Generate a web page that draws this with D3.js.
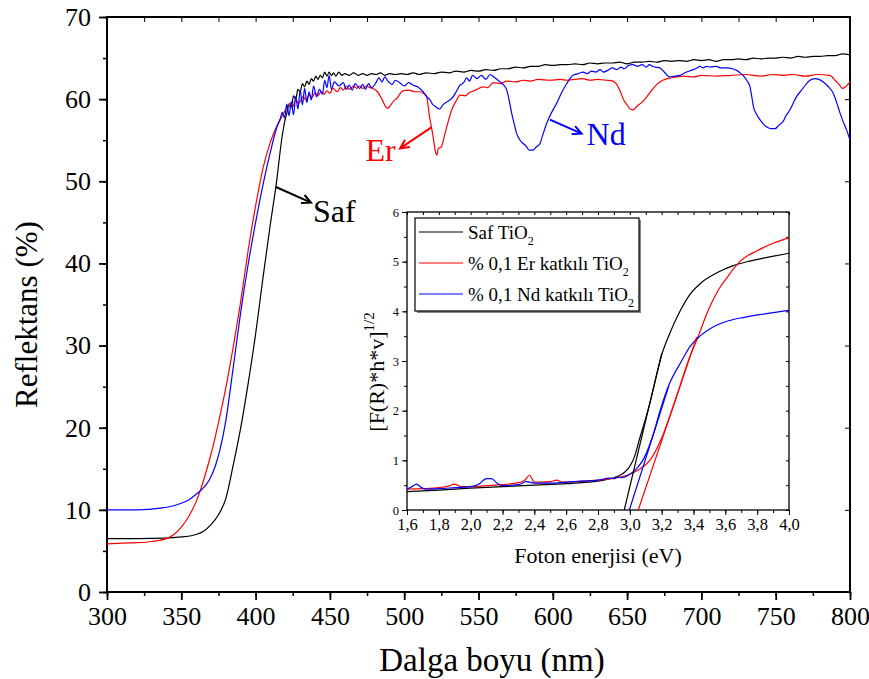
<!DOCTYPE html>
<html>
<head>
<meta charset="utf-8">
<script src="https://cdn.jsdelivr.net/npm/d3@7"></script>
<style>
    body { margin: 0; background: #fff; }
</style>
</head>
<body>
<svg id="chart" width="869" height="679"></svg>
<script>
// ---- main spectra: [wavelength nm, reflectance %] ----
const safData = [[300,6.5],[320,6.5],[340,6.55],[350,6.7],[360,7.0],[365,7.4],[370,8.2],[375,9.4],[380,11.4],[385,15.5],[390,20.0],[395,25.4],[400,31.4],[405,38.3],[409.7,44.5],[414,49.8],[417.5,55.0],[419.5,57.2],[421,58.3],[422.5,59.3],[424,59.0],[425.5,60.4],[427,60.0],[428.5,61.2],[430,60.9],[431.5,61.9],[433,61.5],[434.5,62.2],[436,61.8],[437.5,62.5],[439,62.2],[440.5,62.8],[442,62.4],[443.5,62.9],[445,62.6],[446.5,63.3],[448,62.8],[449.5,63.3],[451,62.9],[452.5,63.2],[454,62.8],[456,63.3],[458,62.9],[460,63.1],[463,62.9],[466,63.2],[469,62.9],[472,63.1],[475,62.9],[478,63.1],[481,63.0],[484,63.2],[487,62.9],[490,63.1],[494,63.0],[498,63.1],[502,63.0],[506,63.2],[510,63.0],[515,63.2],[520,63.1],[525,63.3],[530,63.2],[535,63.4],[540,63.3],[545,63.5],[550,63.4],[555,63.6],[560,63.5],[565,63.7],[570,63.7],[575,63.9],[580,63.8],[585,64.0],[590,64.0],[595,64.2],[600,64.1],[605,64.2],[610,64.2],[615,64.3],[620,64.2],[625,64.4],[630,64.3],[635,64.4],[640,64.4],[645,64.5],[650,64.3],[655,64.5],[660,64.5],[665,64.6],[670,64.5],[675,64.7],[680,64.6],[685,64.7],[690,64.6],[695,64.8],[700,64.7],[705,64.8],[710,64.6],[715,64.8],[720,64.8],[725,64.9],[730,64.8],[735,65.0],[740,64.9],[745,65.0],[750,65.0],[755,65.1],[760,65.0],[765,65.2],[770,65.1],[775,65.2],[780,65.2],[785,65.3],[790,65.3],[795,65.5],[800,65.4]];

const erData = [[300,5.85],[310,5.95],[320,6.0],[330,6.15],[340,6.5],[345,7.0],[350,7.9],[355,9.2],[360,11.0],[365,13.6],[370,16.8],[375,20.6],[380,24.9],[385,29.9],[390,35.4],[395,41.6],[400,47.0],[405,51.6],[410,54.8],[415,57.0],[418.6,58.2],[421,59.0],[423,59.5],[425,59.1],[427,59.9],[429,59.5],[432,60.3],[434,59.9],[436,60.5],[438,60.2],[440,60.8],[442,60.4],[444,60.9],[446,60.6],[448,61.0],[450,60.7],[452,61.3],[455,60.9],[457,61.4],[459,61.1],[461,61.6],[463,61.2],[466,61.6],[468,61.3],[470,61.6],[472,61.3],[475,61.6],[477,61.4],[480,61.2],[482,60.9],[485,60.0],[487.5,59.1],[489,58.9],[491,59.3],[493,59.8],[495,60.1],[497,60.6],[499,61.0],[503,61.1],[507,60.9],[510.6,60.9],[513,60.7],[515,60.4],[517,57.9],[519.5,55.4],[521,53.6],[522,53.2],[523,54.0],[525,54.2],[527,55.5],[528.6,56.6],[532,58.7],[535,59.8],[537.5,60.5],[541,60.4],[544,60.8],[548,61.1],[553,61.5],[556,61.4],[560,62.0],[565,61.9],[569,62.2],[575,62.1],[580,62.3],[585,62.2],[590,62.4],[598,62.3],[605,62.4],[610,62.3],[620,62.5],[625,62.3],[630,62.4],[636,62.3],[640.5,62.2],[643,61.8],[645,61.1],[648,59.8],[650,59.3],[652,58.8],[654,58.7],[657,59.2],[660,59.6],[665,60.7],[670,61.8],[674,62.3],[680,62.6],[688,62.8],[695,62.7],[700,62.9],[710,62.8],[720,62.9],[730,63.0],[740,62.8],[748,63.0],[755,62.9],[762,63.0],[770,62.8],[778,63.0],[786.5,62.9],[789,62.5],[791,62.1],[793,61.7],[795,61.3],[797,61.5],[800,62.1]];

const ndData = [[300,10.0],[320,10.0],[336,10.2],[345,10.5],[350,10.8],[355,11.2],[360,11.9],[365,12.7],[369,13.7],[373,15.4],[376,17.3],[380,20.9],[385,27.4],[390,34.1],[395,39.9],[400,45.0],[405,49.6],[410,53.6],[414,56.4],[416.4,57.5],[418,58.4],[419.5,57.7],[421,59.4],[422.5,58.0],[424,59.7],[425.5,58.1],[427,60.3],[428.5,58.8],[430,61.1],[431.5,59.3],[433,61.3],[434.5,59.6],[436,60.9],[437.5,59.9],[439,61.6],[441,60.3],[443,61.2],[445,60.6],[446.5,62.3],[448,61.4],[449.5,62.9],[451,61.2],[453,62.1],[456,61.6],[459,62.0],[461,61.2],[463,61.7],[465,61.1],[467,61.9],[470,61.3],[472,61.8],[474,61.2],[476,61.9],[478,61.4],[481,62.0],[483,62.6],[485,62.1],[487,62.7],[489,62.2],[492,61.8],[494,62.3],[497,62.0],[500,61.6],[503,62.0],[506,61.7],[509,61.5],[512.7,60.9],[515,60.3],[517.4,59.9],[519,59.4],[521,59.1],[524,58.8],[526,59.3],[529,59.7],[533,60.3],[535,60.9],[537.5,61.7],[540,62.0],[542,62.6],[544,62.2],[546,62.9],[549,62.5],[552,62.9],[555,62.4],[557.7,63.0],[561,62.6],[564.5,62.1],[567,61.7],[569,61.1],[570.5,60.0],[572.3,58.3],[574,57.0],[575.7,55.8],[578,55.0],[580,54.6],[582.4,54.2],[584,53.8],[586.7,53.8],[589,54.2],[591.4,54.6],[593,55.5],[596,57.1],[599,58.3],[602.6,59.5],[606,60.8],[609.4,61.9],[613.6,62.9],[617,63.1],[620.5,63.3],[623,63.1],[626,63.4],[629,63.3],[631.8,63.6],[634,63.3],[637,63.5],[640,63.8],[643,63.6],[646,63.9],[648,63.7],[651,64.1],[654,64.2],[657,64.0],[660,64.2],[663,63.9],[665,64.2],[667,64.0],[669,63.9],[672,63.8],[675,63.3],[678.7,62.7],[682,62.8],[685.5,62.9],[690,63.3],[694.5,63.6],[697,63.8],[699,64.0],[701,63.8],[703.5,64.0],[706,63.9],[710,64.0],[713,63.8],[717,63.8],[721,63.7],[723.7,63.5],[726,63.2],[728,62.9],[730.5,62.3],[732.7,61.5],[734,60.2],[735,59.1],[737,58.2],[739.4,57.5],[742,56.9],[744,56.6],[747,56.4],[749.5,56.4],[752,56.8],[755,57.3],[757,58.0],[759.6,58.7],[762,59.6],[764,60.3],[767,61.0],[770.8,61.9],[773,62.3],[776.4,62.5],[779,62.4],[782,62.1],[785,61.6],[788.8,60.7],[791,59.6],[793.3,58.3],[795.5,57.2],[797.8,56.2],[800,55.0]];

// ---- inset (Tauc): [photon energy eV, (F(R)*h*v)^1/2] ----
const safInset = [[1.6,0.37],[1.8,0.40],[2.0,0.44],[2.2,0.47],[2.4,0.50],[2.6,0.53],[2.77,0.57],[2.85,0.61],[2.9,0.65],[2.95,0.72],[2.98,0.8],[3.0,0.88],[3.03,1.08],[3.06,1.42],[3.1,1.85],[3.126,2.15],[3.163,2.65],[3.2,3.12],[3.25,3.55],[3.315,4.0],[3.38,4.35],[3.45,4.58],[3.55,4.78],[3.65,4.92],[3.75,5.01],[3.87,5.09],[4.0,5.17]];
const erInset = [[1.6,0.42],[1.7,0.43],[1.8,0.45],[1.86,0.48],[1.9,0.52],[1.94,0.47],[2.0,0.47],[2.1,0.49],[2.2,0.51],[2.3,0.55],[2.34,0.6],[2.37,0.70],[2.4,0.56],[2.45,0.56],[2.5,0.57],[2.54,0.6],[2.58,0.56],[2.7,0.58],[2.8,0.6],[2.9,0.64],[3.0,0.72],[3.05,0.8],[3.126,1.0],[3.2,1.45],[3.263,2.0],[3.315,2.5],[3.367,3.0],[3.43,3.5],[3.49,4.0],[3.56,4.45],[3.62,4.72],[3.69,5.0],[3.8,5.22],[3.9,5.37],[4.0,5.48]];
const ndInset = [[1.6,0.42],[1.63,0.47],[1.66,0.52],[1.69,0.45],[1.72,0.42],[1.8,0.43],[1.9,0.45],[2.0,0.47],[2.05,0.52],[2.1,0.63],[2.13,0.63],[2.17,0.53],[2.2,0.49],[2.3,0.51],[2.35,0.57],[2.4,0.54],[2.5,0.54],[2.6,0.56],[2.7,0.58],[2.8,0.6],[2.87,0.64],[2.9,0.63],[2.92,0.66],[2.95,0.65],[3.0,0.72],[3.05,0.86],[3.09,1.05],[3.15,1.55],[3.19,2.0],[3.25,2.55],[3.325,3.0],[3.38,3.3],[3.44,3.5],[3.52,3.68],[3.61,3.8],[3.72,3.88],[3.85,3.95],[4.0,4.02]];
// band-gap tangent lines (start at y = 0)
const safFit = [[2.965,0],[3.2,3.15]];
const erFit = [[3.053,0],[3.42,3.48]];
const ndFit = [[2.997,0],[3.245,2.5]];

const xTicks = [300,350,400,450,500,550,600,650,700,750,800];
const yTicks = [0,10,20,30,40,50,60,70];
const xiTicks = [1.6,1.8,2.0,2.2,2.4,2.6,2.8,3.0,3.2,3.4,3.6,3.8,4.0];
const yiTicks = [0,1,2,3,4,5,6];

const legendNames = ["Saf TiO", "% 0,1 Er katkılı TiO", "% 0,1 Nd katkılı TiO"];
const colors = ["#000000", "#ff0000", "#0000ff"];

// annotation labels in data coordinates: text position and arrow from -> to
const notes = [
    {text: "Er", color: "#ff0000", at: [474, 52.5], from: [518.5, 56.6], to: [497.2, 54.0]},
    {text: "Nd", color: "#0000ff", at: [622.7, 54.4], from: [598.1, 57.5], to: [619.4, 55.8]},
    {text: "Saf", color: "#000000", at: [438.6, 45.0], from: [413.7, 49.3], to: [437.3, 47.4]}
];

const font = "'Liberation Serif', 'Times New Roman', serif";
const svg = d3.select("#chart");

const x = d3.scaleLinear([300, 800], [107, 850]);
const y = d3.scaleLinear([0, 70], [592, 17]);

function styleAxis(g, size) {
    g.select(".domain").remove();
    g.attr("font-size", size).attr("font-family", font);
    g.selectAll("line").attr("stroke", "#000");
    g.selectAll("text").attr("fill", "#000");
}

const minorX = d3.range(300, 801, 25);
const minorY = d3.range(0, 71, 5);

// ---- main axes ----
svg.append("g")
    .attr("transform", `translate(0,${y(0)})`)
    .call(d3.axisBottom(x).tickValues(minorX).tickSize(4).tickFormat(""))
    .call(g => styleAxis(g, 26))
    .selectAll("line").attr("stroke-width", 1.5);
svg.append("g")
    .attr("transform", `translate(0,${y(0)})`)
    .call(d3.axisBottom(x).tickValues(xTicks).tickSize(8).tickPadding(7))
    .call(g => styleAxis(g, 26))
    .selectAll("line").attr("stroke-width", 1.8);

svg.append("g")
    .attr("transform", `translate(${x(300)},0)`)
    .call(d3.axisLeft(y).tickValues(minorY).tickSize(4).tickFormat(""))
    .call(g => styleAxis(g, 26))
    .selectAll("line").attr("stroke-width", 1.5);
svg.append("g")
    .attr("transform", `translate(${x(300)},0)`)
    .call(d3.axisLeft(y).tickValues(yTicks).tickSize(8).tickPadding(8))
    .call(g => styleAxis(g, 26))
    .selectAll("line").attr("stroke-width", 1.8);

// mirrored inward ticks on top and right
svg.append("g")
    .attr("transform", `translate(0,${y(70)})`)
    .call(d3.axisTop(x).tickValues(minorX).tickSize(-5).tickFormat(""))
    .call(g => styleAxis(g, 10));
svg.append("g")
    .attr("transform", `translate(${x(800)},0)`)
    .call(d3.axisRight(y).tickValues(minorY.filter(v => v % 10 === 0)).tickSize(-5).tickFormat(""))
    .call(g => styleAxis(g, 10));

svg.append("rect")
    .attr("x", x(300)).attr("y", y(70))
    .attr("width", x(800) - x(300)).attr("height", y(0) - y(70))
    .attr("fill", "none").attr("stroke", "#000").attr("stroke-width", 2);

// axis titles
svg.append("text")
    .attr("x", 492).attr("y", 671)
    .attr("text-anchor", "middle").attr("font-size", 33).attr("font-family", font)
    .text("Dalga boyu (nm)");
svg.append("text")
    .attr("transform", `translate(37,${(y(0) + y(70)) / 2 + 10}) rotate(-90)`)
    .attr("text-anchor", "middle").attr("font-size", 31).attr("font-family", font)
    .text("Reflektans (%)");

// ---- main curves ----
const line = d3.line().x(d => x(d[0])).y(d => y(d[1])).curve(d3.curveMonotoneX);
svg.append("g")
    .attr("fill", "none")
    .attr("stroke-width", 1.2)
    .attr("stroke-linejoin", "round")
    .selectAll("path")
    .data([safData, erData, ndData])
    .join("path")
    .attr("stroke", (d, i) => colors[i])
    .attr("d", line);

// annotations
const ann = svg.append("g").attr("font-family", font);
notes.forEach(n => {
    const x0 = x(n.from[0]), y0 = y(n.from[1]), x1 = x(n.to[0]), y1 = y(n.to[1]);
    const a = Math.atan2(y1 - y0, x1 - x0);
    const h = 10, s = 0.45;
    ann.append("path")
        .attr("fill", "none").attr("stroke", n.color).attr("stroke-width", 2)
        .attr("d", `M${x0},${y0}L${x1},${y1}` +
            `M${x1 - h * Math.cos(a - s)},${y1 - h * Math.sin(a - s)}L${x1},${y1}` +
            `L${x1 - h * Math.cos(a + s)},${y1 - h * Math.sin(a + s)}`);
    ann.append("text")
        .attr("x", x(n.at[0])).attr("y", y(n.at[1]))
        .attr("fill", n.color).attr("font-size", 32)
        .text(n.text);
});

// ---- inset ----
const xi = d3.scaleLinear([1.6, 4.0], [407, 789]);
const yi = d3.scaleLinear([0, 6], [510, 212]);
const commaFmt = d => d3.format(".1f")(d).replace(".", ",");

const inset = svg.append("g").attr("font-family", font);
inset.append("rect")
    .attr("x", xi(1.6)).attr("y", yi(6))
    .attr("width", xi(4) - xi(1.6)).attr("height", yi(0) - yi(6))
    .attr("fill", "#fff");

const minorXi = d3.range(16, 41).map(v => v / 10);
const minorYi = d3.range(0, 13).map(v => v / 2);

inset.append("g")
    .attr("transform", `translate(0,${yi(0)})`)
    .call(d3.axisBottom(xi).tickValues(minorXi).tickSize(3).tickFormat(""))
    .call(g => styleAxis(g, 10));
inset.append("g")
    .attr("transform", `translate(0,${yi(0)})`)
    .call(d3.axisBottom(xi).tickValues(xiTicks).tickSize(5).tickPadding(3).tickFormat(commaFmt))
    .call(g => styleAxis(g, 16.5));
inset.append("g")
    .attr("transform", `translate(${xi(1.6)},0)`)
    .call(d3.axisLeft(yi).tickValues(minorYi).tickSize(3).tickFormat(""))
    .call(g => styleAxis(g, 10));
inset.append("g")
    .attr("transform", `translate(${xi(1.6)},0)`)
    .call(d3.axisLeft(yi).tickValues(yiTicks).tickSize(5).tickPadding(3).tickFormat(d3.format("d")))
    .call(g => styleAxis(g, 12.5));
inset.append("g")
    .attr("transform", `translate(0,${yi(6)})`)
    .call(d3.axisTop(xi).tickValues(minorXi).tickSize(-3).tickFormat(""))
    .call(g => styleAxis(g, 10));
inset.append("g")
    .attr("transform", `translate(${xi(4)},0)`)
    .call(d3.axisRight(yi).tickValues(minorYi).tickSize(-3).tickFormat(""))
    .call(g => styleAxis(g, 10));

inset.append("rect")
    .attr("x", xi(1.6)).attr("y", yi(6))
    .attr("width", xi(4) - xi(1.6)).attr("height", yi(0) - yi(6))
    .attr("fill", "none").attr("stroke", "#000").attr("stroke-width", 1.3);

inset.append("text")
    .attr("x", (xi(1.6) + xi(4)) / 2).attr("y", 563)
    .attr("text-anchor", "middle").attr("font-size", 22)
    .text("Foton enerjisi (eV)");
const ylab = inset.append("text")
    .attr("transform", `translate(384,372) rotate(-90)`)
    .attr("text-anchor", "middle").attr("font-size", 22);
ylab.append("tspan").text("[F(R)*h*v]");
ylab.append("tspan").attr("font-size", 15).attr("dy", -10).text("1/2");

const iline = d3.line().x(d => xi(d[0])).y(d => yi(d[1])).curve(d3.curveMonotoneX);
inset.append("g")
    .attr("fill", "none")
    .attr("stroke-width", 1.2)
    .selectAll("path")
    .data([safInset, erInset, ndInset, safFit, erFit, ndFit])
    .join("path")
    .attr("stroke", (d, i) => colors[i % 3])
    .attr("d", iline);

// legend
const lg = inset.append("g");
lg.append("rect").attr("x", 417).attr("y", 220).attr("width", 224).attr("height", 93).attr("fill", "#888");
lg.append("rect").attr("x", 415).attr("y", 218).attr("width", 224).attr("height", 93)
    .attr("fill", "#fff").attr("stroke", "#000").attr("stroke-width", 1.2);
legendNames.forEach((name, i) => {
    const yy = 232 + i * 31;
    lg.append("line")
        .attr("x1", 419).attr("x2", 463).attr("y1", yy).attr("y2", yy)
        .attr("stroke", colors[i]).attr("stroke-width", 1.2);
    const t = lg.append("text").attr("x", 468).attr("y", yy + 7).attr("font-size", 19);
    t.append("tspan").text(name);
    t.append("tspan").attr("font-size", 12).attr("dy", 6).text("2");
});
</script>
</body>
</html>
